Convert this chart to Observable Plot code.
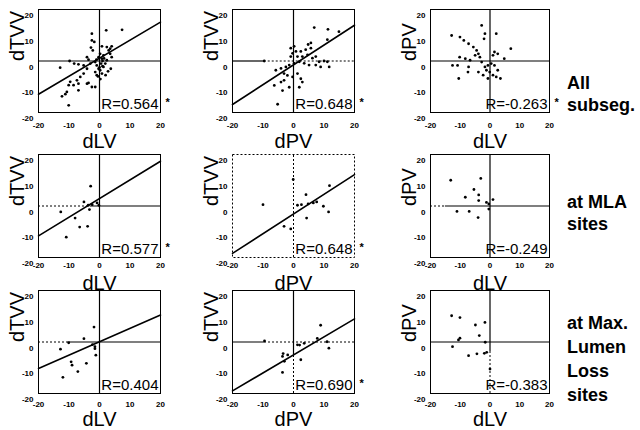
<!DOCTYPE html>
<html><head><meta charset="utf-8">
<script src="https://cdn.jsdelivr.net/npm/d3@7"></script>
<script src="https://cdn.jsdelivr.net/npm/@observablehq/plot@0.6"></script>
<style>
body{margin:0;background:#fff;}
#chart{position:relative;width:640px;height:430px;font-family:Arial,"Liberation Sans",sans-serif;overflow:hidden;}
.rowlabel{position:absolute;left:567px;font-size:18px;font-weight:bold;line-height:24px;color:#000;white-space:nowrap;}
</style></head><body><div id="chart"></div>
<script>
// ---- data ----
const axisTicks = [-20, -10, 0, 10, 20];
const xLabels = ["dLV", "dPV", "dLV"];
const yLabels = ["dTVV", "dTVV", "dPV"];
const rowLabels = [["All", "subseg."], ["at MLA", "sites"], ["at Max.", "Lumen", "Loss", "sites"]];
const rValues = ["R=0.564", "R=0.648", "R=-0.263", "R=0.577", "R=0.648", "R=-0.249", "R=0.404", "R=0.690", "R=-0.383"];
const significant = [true, true, true, true, true, false, false, true, false];
const fitSlope = [0.70, 0.77, null, 0.725, 0.765, null, 0.52, 0.70, null];
const fitIntercept = [1.1, -1.5, null, 2.9, -3.1, null, 0.1, -5, null];

const p1X = [2.2,7.4,-2.5,-2.5,-1.7,-2.8,-2.2,0.8,2.4,3,3.5,-4.1,-3.6,-9.8,-8.3,-6.9,-12.9,-5.2,-4.1,-3,-1.4,-0.9,-0.3,0.2,-1.4,-0.9,0.8,1.3,1.9,2.4,3.7,0.8,-0.3,0.2,1.3,-6.3,-7.4,-9.6,-10.1,-8.5,-6.9,-6.9,-10.7,-12.3,-11.2,-10.1,-4.1,-2.5,-1.4,-3.6,-5.2,4,3.5,4,0.5,1,0,-0.5,0.3,1,1.5,-1,2.8,2];
const p1Y = [11.9,12.1,10.6,8,7.4,5.2,4.1,5.7,5.4,4.1,2.8,1.5,0.5,0,-1,-1.3,-2.6,-1.7,-3,-1,-0.4,-1.7,-3,-3.6,-4.3,-5.5,-4.9,-2.3,-1,0.3,-3,0.9,1.5,2.8,2.2,-6.2,-7.5,-8.1,-9.4,-9.4,-8.8,-11.4,-12,-13.7,-12.9,-17.2,-8.8,-10.1,-10.1,-8.5,-4.9,1.5,4.8,5.7,-1,-2,-2.5,-6,-7,0,1,0.5,-4,-5.5];
const p2X = [6.8,11.3,14.9,11.1,4.8,5.7,4,2.4,0.8,-0.3,-0.9,1.3,2.9,4.6,6.2,7.3,8.4,10,11.1,11.7,8.9,7.3,5.1,3.5,1.9,0.2,-1.4,-2.5,-4.1,-5.8,-3.1,-2,-0.3,1.3,2.4,2.9,1.9,-3.1,-4.1,-6.3,-3.6,-1.4,-5.2,-9.6,5.7,-0.9,0.2];
const p2Y = [13,12.3,11.4,8.3,6.4,5,4.4,3.7,3.7,3,1.7,1.7,1.7,2.4,1.1,1.7,-0.3,0,-0.3,-2.3,-2.3,-1.6,-1.6,-0.9,-0.3,-0.9,-1.6,-2.3,-2.9,-3.6,-4.9,-5.6,-6.2,-4.9,-6.9,-8.2,-10.2,-7.5,-8.2,-9.5,-11.5,-10.2,-16.8,0,7,5,5.7];
const p3X = [-2.8,-1.7,-2,2.1,-12.9,-10.1,-8.8,-7.2,-5.6,-4.5,-3.9,-3.4,7,1.5,2.6,1,-10.2,-8.3,-6.7,-12.6,-10.9,-7.2,-7.4,-10.5,-3.9,-2.3,-1.7,-0.7,-1.2,-0.1,0.4,1.5,2.6,2.1,3.5,-0.7,1,-2.8,-5,4.8];
const p3Y = [13.8,10.6,8.6,10.6,9.9,9.3,8,6.7,5.4,4.1,2.8,1.5,4.8,3.5,2.8,2.2,1.5,0.9,0.3,-1.7,-1.7,-2.3,-4.3,-6.8,-4.3,-5.5,-2.3,-1.7,-3.6,-4.3,-1,-1.7,-3.6,-6.2,-6.8,-6.8,-5.5,-0.4,2.2,0.9];
const p4X = [-2.9,-5.1,-3.7,-3.3,-0.8,-0.2,-12.7,-8,-6.5,-3.9,-10.9,-2.4];
const p4Y = [7.7,1.6,0.3,-1.4,1.2,0.3,-2.3,-4.7,-8.2,-7.9,-12.1,0.5];
const p5X = [-0.1,11.8,4.1,1.3,2.6,4.8,6.5,7.6,9.8,11.5,4.3,-3.1,-0.9,-10];
const p5Y = [10.3,7.9,4.4,0.3,0.5,0.8,1.2,1.6,-0.1,-2.3,-4.7,-7.9,-8.9,0.5];
const p6X = [-13.2,-3.1,-5.4,-3.8,-3.8,-8.3,-1.2,1,-0.4,-11.1,-7,-4,-0.4];
const p6Y = [10,10.7,6.4,4.3,2.1,3.4,1.4,2.5,-1.2,-2.1,-2.1,-4.5,0.8];
const p7X = [-1.8,-5.1,-10.1,-12.8,-2.3,-1.5,-1.5,-1.2,-9.3,-4.3,-7.1,-12,-9];
const p7Y = [5.8,1.3,-0.3,-2.8,-1,-1.8,-2.6,-5.1,-7.7,-8.3,-11.5,-13.7,-9];
const p8X = [8.9,7.8,11,11.6,1.3,3.5,2.4,-3.6,-1.9,-3,-3.6,-9.5,-3.4,2];
const p8Y = [6.5,1.4,0.1,-2.4,-1.1,-0.5,-6.9,-5.6,-5,-7.5,-11.8,0.4,-4.5,-1.2];
const p9X = [-12.9,-10.1,-4.9,-1.7,-3.6,-10.1,-10.6,-12.6,-7.2,-4.4,-1.9,-1.6,-1.1,0];
const p9Y = [10.2,9.5,6.6,7.6,2.5,1.5,0.8,-1.8,-5.3,-4.6,-4.4,-0.1,-4,-10.5];

// zero reference-line segments per panel: [from, to, dotted]
const hSegs = [
  [[-20,20,0]], [[-20,-9.6,0],[-9.6,20,1]], [[-20,20,0]],
  [[-20,-3,1],[-3,20,0]], [], [[-20,-15,1],[-15,20,0]],
  [[-20,-10,1],[-10,20,0]], [[-20,-9.5,0],[-9.5,20,1]], [[-20,20,0]]
];
const vSegs = [
  [[-20,20,0]], [[-20,20,0]], [[-20,20,0]],
  [[-20,20,0]], [[-20,20,1]], [[-20,20,0]],
  [[-20,20,0]], [[-5,20,0],[-20,-5,1]], [[-4,20,0],[-20,-4,1]]
];

const pointsX = [p1X,p2X,p3X,p4X,p5X,p6X,p7X,p8X,p9X];
const pointsY = [p1Y,p2Y,p3Y,p4Y,p5Y,p6Y,p7Y,p8Y,p9Y];

// ---- layout ----
const colLeft = [37.5, 231.5, 429.5];
const colW = [122, 122, 119];
const rowTop = [9, 153.5, 289.5];
const rowTickPad = [10, 5, 8];
const rowLabelDy = [29, 26, 26];
const frameH = 103;
const mL = 44, mT = 10, mR = 26, mB = 44;
const narrow = "'Liberation Sans Narrow','Arial Narrow',Arial,sans-serif";

const chart = document.getElementById("chart");
for (let i = 0; i < 9; i++) {
  const r = Math.floor(i / 3), c = i % 3;
  const xs = pointsX[i], ys = pointsY[i];
  const marks = [];
  marks.push(Plot.frame({stroke: "black", strokeWidth: 1, strokeDasharray: i === 4 ? "2,2" : null}));
  const hs = hSegs[i].filter(d => !d[2]), hd = hSegs[i].filter(d => d[2]);
  const vs = vSegs[i].filter(d => !d[2]), vd = vSegs[i].filter(d => d[2]);
  marks.push(Plot.ruleY(hs, {y: 0, x1: d => d[0], x2: d => d[1], stroke: "black", strokeWidth: 1.2}));
  marks.push(Plot.ruleY(hd, {y: 0, x1: d => d[0], x2: d => d[1], stroke: "black", strokeWidth: 1, strokeDasharray: "2,2"}));
  marks.push(Plot.ruleX(vs, {x: 0, y1: d => d[0], y2: d => d[1], stroke: "black", strokeWidth: 1.2}));
  marks.push(Plot.ruleX(vd, {x: 0, y1: d => d[0], y2: d => d[1], stroke: "black", strokeWidth: 1, strokeDasharray: "2,2"}));
  if (fitSlope[i] !== null) {
    const m = fitSlope[i], b = fitIntercept[i];
    marks.push(Plot.line([-20, 20], {x: d => d, y: d => b + m * d, stroke: "black", strokeWidth: 1.6}));
  }
  marks.push(Plot.dot(xs, {x: xs, y: ys, r: 1.4, fill: "black"}));
  marks.push(Plot.text([rValues[i]], {text: d => d, frameAnchor: "bottom-right", lineAnchor: "middle", dx: -2, dy: -8, textAnchor: "end", fontSize: 15}));
  if (significant[i]) {
    marks.push(Plot.text(["*"], {text: d => d, frameAnchor: "bottom-right", lineAnchor: "middle", dx: 5, dy: -10, textAnchor: "start", fontSize: 11, fontWeight: "bold"}));
  }
  marks.push(Plot.axisX({ticks: axisTicks, tickSize: 0, tickPadding: rowTickPad[r], fontSize: 8, fontWeight: "bold", tickFormat: d => String(d), label: null}));
  marks.push(Plot.axisY({ticks: axisTicks, tickSize: 0, tickPadding: 5, dy: 6, fontSize: 8, fontWeight: "bold", tickFormat: d => String(d), label: null}));
  marks.push(Plot.text([xLabels[c]], {text: d => d, frameAnchor: "bottom", lineAnchor: "middle", dy: rowLabelDy[r], fontSize: 20, fontFamily: narrow}));
  marks.push(Plot.text([yLabels[c]], {text: d => d, frameAnchor: "left", lineAnchor: "middle", dx: -21, rotate: -90, fontSize: 20}));

  const svg = Plot.plot({
    width: mL + colW[c] + mR,
    height: mT + frameH + mB,
    marginLeft: mL, marginTop: mT, marginRight: mR, marginBottom: mB,
    x: {domain: [-20, 20]},
    y: {domain: [-20, 20]},
    style: {background: "transparent", overflow: "visible", fontFamily: "Arial,'Liberation Sans',sans-serif", color: "black"},
    marks
  });
  svg.style.position = "absolute";
  svg.style.left = (colLeft[c] - mL) + "px";
  svg.style.top = (rowTop[r] - mT) + "px";
  chart.appendChild(svg);
}

const rowLabelTop = [72, 191, 311];
rowLabels.forEach((lines, r) => {
  const div = document.createElement("div");
  div.className = "rowlabel";
  div.style.top = rowLabelTop[r] + "px";
  if (r < 2) div.style.lineHeight = "22px";
  div.innerHTML = lines.join("<br>");
  chart.appendChild(div);
});
</script>
</body></html>
